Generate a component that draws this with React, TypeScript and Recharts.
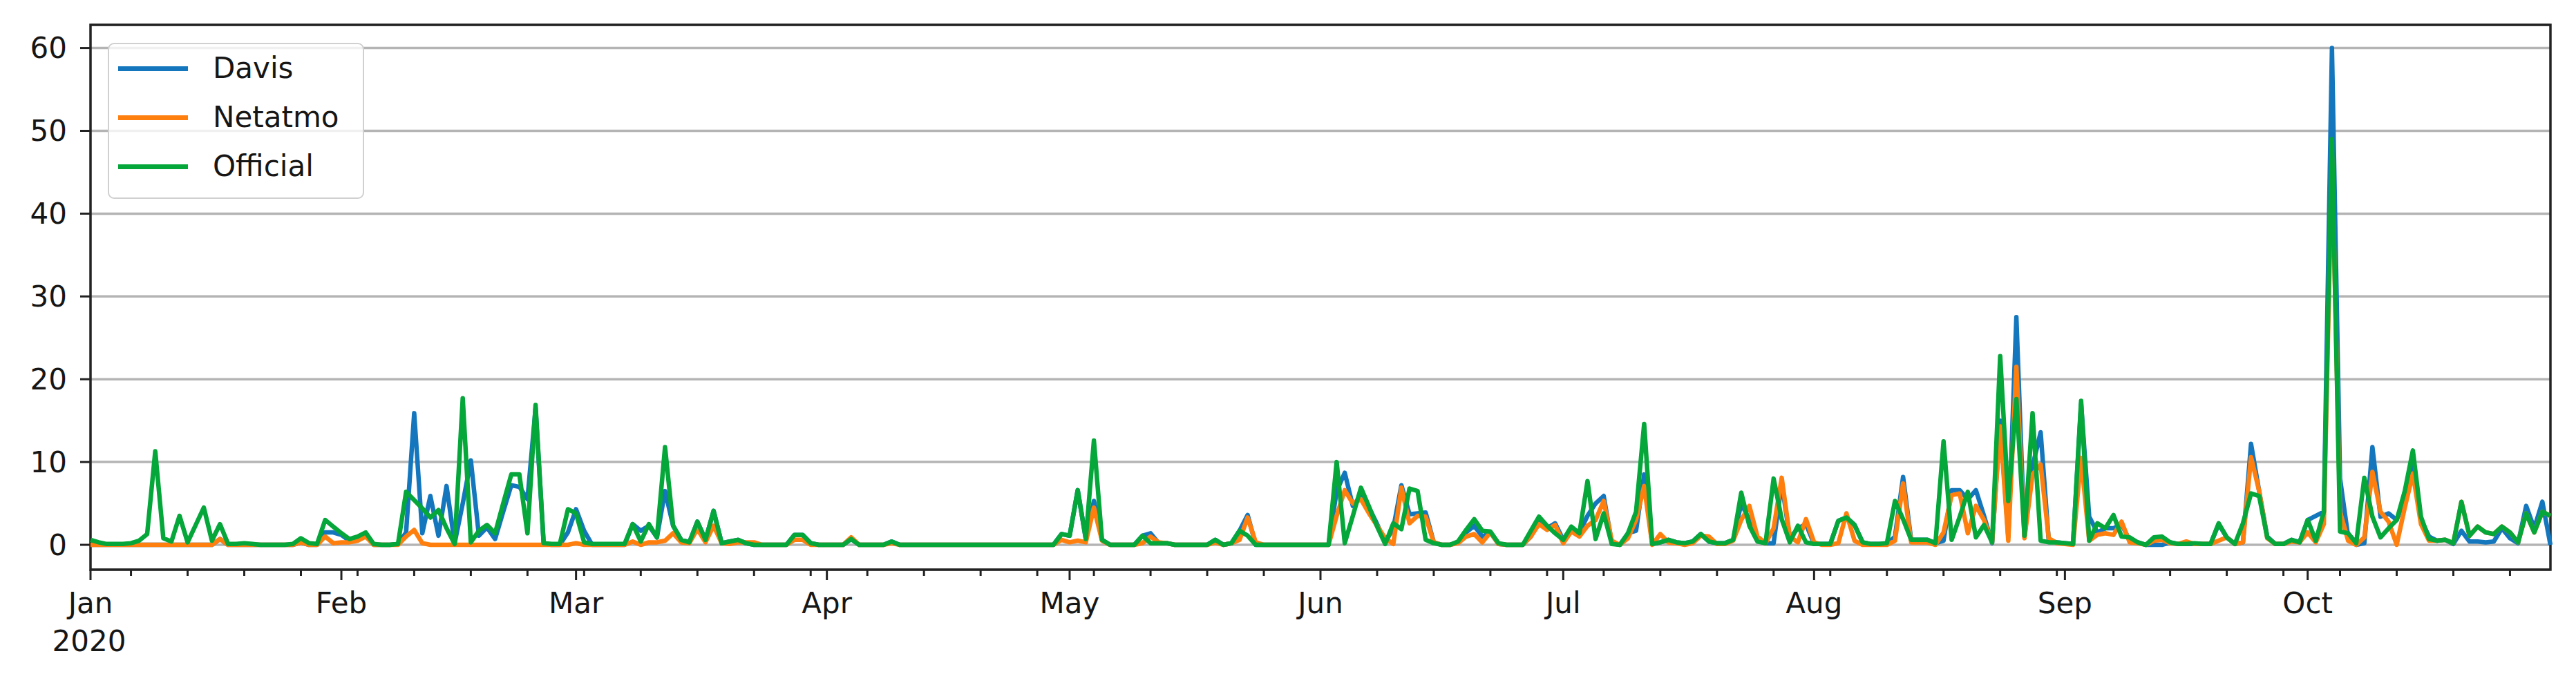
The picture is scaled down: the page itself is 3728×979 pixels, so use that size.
import React from "react";
import { LineChart, Line, XAxis, YAxis, CartesianGrid, ReferenceArea } from "recharts";

// Daily precipitation, 1 Jan 2020 .. 31 Oct 2020 (305 days)
const officialJan = [0.6,0.3,0.1,0.1,0.1,0.2,0.5,1.3,11.3,0.8, 0.4,3.5,0.3,2.4,4.5,0.5,2.5,0.1,0.1,0.2, 0.1,0,0,0,0,0.1,0.8,0.2,0.1,3.0, 2.2];
const officialFeb = [1.4,0.7,1.0,1.5,0.1,0,0,0.1,6.4,5.4, 4.4,3.3,4.2,2.0,0.1,17.7,0.3,1.7,2.4,1.4, 5.0,8.5,8.5,1.4,16.9,0.2,0.1,0.1,4.3];
const officialMar = [3.8,0.3,0.1,0.1,0.1,0.1,0.1,2.5,0.4,2.5, 0.9,11.8,2.3,0.6,0.3,2.8,0.6,4.1,0.2,0.4, 0.6,0.2,0,0,0,0,0,1.2,1.2,0.2, 0];
const officialApr = [0,0,0,0.7,0,0,0,0,0.4,0, 0,0,0,0,0,0,0,0,0,0, 0,0,0,0,0,0,0,0,0,1.3];
const officialMay = [1.1,6.6,0.7,12.6,0.6,0,0,0,0,1.1, 0.2,0.2,0.2,0,0,0,0,0,0.6,0, 0.2,1.7,1.1,0,0,0,0,0,0,0, 0];
const officialJun = [0,0,10.0,0.2,3.5,6.9,4.6,2.2,0.1,2.6, 1.9,6.8,6.5,0.6,0.2,0,0,0.4,1.8,3.1, 1.7,1.6,0.2,0,0,0,1.7,3.4,2.3,1.4];
const officialJul = [0.6,2.2,1.4,7.7,0.7,3.8,0.1,0,1.4,4.0, 14.6,0.1,0.3,0.6,0.3,0.2,0.4,1.3,0.4,0.2, 0.2,0.6,6.3,2.3,0.4,0.2,8.0,3.1,0.3,2.3, 0.3];
const officialAug = [0.1,0.1,0.1,2.9,3.3,2.4,0.3,0.1,0.1,0.2, 5.3,3.1,0.6,0.6,0.6,0.2,12.5,0.6,3.4,6.4, 0.9,2.4,0.3,22.8,5.3,17.6,1.1,15.9,0.5,0.3, 0.3];
const officialSep = [0.2,0.1,17.4,0.5,2.6,2.0,3.6,1.0,0.9,0.3, 0,0.9,1.0,0.3,0.1,0.1,0.2,0.1,0.1,2.6, 0.9,0.1,2.6,6.2,5.9,0.9,0.1,0.1,0.6,0.3];
const officialOct = [3.0,0.5,4.0,49,1.6,1.4,0.2,8.1,3.4,0.9, 2.0,3.0,6.5,11.4,3.4,0.7,0.5,0.6,0.2,5.2, 1.1,2.2,1.5,1.3,2.2,1.5,0.3,3.8,1.5,4.0, 3.5];

const netatmoJan = [0,0,0,0,0,0,0,0,0,0, 0,0,0,0,0,0,0.7,0,0,0, 0,0,0,0,0,0,0.3,0,0,1.0, 0.2];
const netatmoFeb = [0.3,0.3,0.5,1.0,0,0,0,0,1.0,1.8, 0.2,0,0,0,0,0,0,0,0,0, 0,0,0,0,0,0,0,0,0];
const netatmoMar = [0.2,0,0,0,0,0,0,0.4,0,0.3, 0.3,0.5,1.4,0.3,0.2,1.9,0.3,2.3,0.2,0.1, 0.3,0.3,0.3,0,0,0,0,0.6,0.6,0, 0];
const netatmoApr = [0,0,0,0.9,0,0,0,0,0.2,0, 0,0,0,0,0,0,0,0,0,0, 0,0,0,0,0,0,0,0,0,0.6];
const netatmoMay = [0.3,0.5,0.3,4.5,0.5,0,0,0,0,0.2, 1.0,0.3,0.2,0,0,0,0,0,0.3,0, 0.2,0.6,3.3,0.3,0,0,0,0,0,0, 0];
const netatmoJun = [0,0,3.5,6.6,5.0,5.5,3.8,2.3,0.8,0.1, 6.9,2.6,3.5,3.4,0.3,0,0,0.2,1.0,1.3, 0.3,1.5,0.1,0,0,0,1.0,2.5,1.8,2.4];
const netatmoJul = [0.2,1.6,1.0,2.3,3.0,5.3,0.5,0,0.8,3.0, 7.1,0,1.3,0.3,0.2,0,0.2,1.1,1.0,0.1, 0.1,0.5,3.0,4.7,1.0,0.2,2.0,8.1,1.0,0.3, 3.1];
const netatmoAug = [0.3,0,0,0.2,3.8,0.5,0,0,0,0, 0.5,7.4,0.3,0.3,0.3,0,1.5,6.0,6.2,1.4, 4.7,3.0,0.3,14.3,0.5,21.5,0.8,8.5,9.7,0.8, 0.2];
const netatmoSep = [0.1,0,10.5,0.5,1.2,1.4,1.2,2.8,0.3,0.2, 0,0.5,0.6,0.2,0.1,0.4,0.1,0.1,0.1,0.5, 0.9,0.1,0.3,10.6,6.5,0.8,0.1,0.1,0.4,0.3];
const netatmoOct = [1.5,0.3,2.5,47,4.0,0.5,0,0.9,8.8,4.0, 2.8,0,4.5,8.6,2.5,0.5,0.5,0.6,0.2,5.2, 1.1,2.2,1.5,1.3,2.2,1.5,0.3,3.8,1.5,4.0, 3.5];

const davisJan = [0,0,0,0,0,0,0,0,0,0, 0,0,0,0,0,0,0.7,0,0,0, 0,0,0,0,0,0,0.3,0,0,1.5, 1.5];
const davisFeb = [1.2,0.5,0.8,1.2,0,0,0,0.1,1.5,15.9, 1.4,5.9,1.1,7.1,0.2,5.0,10.2,1.1,2.1,0.7, 4.0,7.2,7.0,5.5,16.5,0.1,0,0,1.5];
const davisMar = [4.3,1.7,0,0,0,0,0,2.5,1.7,2.3, 0.9,6.5,2.3,0.6,0.3,2.8,0.6,4.1,0.2,0.4, 0.6,0.2,0,0,0,0,0,1.2,1.2,0.2, 0];
const davisApr = [0,0,0,0.7,0,0,0,0,0.4,0, 0,0,0,0,0,0,0,0,0,0, 0,0,0,0,0,0,0,0,0,1.3];
const davisMay = [1.1,6.6,0.7,5.3,0.6,0,0,0,0,1.1, 1.4,0.2,0.2,0,0,0,0,0,0.6,0, 0.2,1.7,3.6,0,0,0,0,0,0,0, 0];
const davisJun = [0,0,6.5,8.7,4.7,6.0,4.5,2.5,0.3,2.0, 7.2,3.7,3.8,3.9,0.3,0,0,0.3,1.5,2.3, 1.0,1.5,0.1,0,0,0,1.0,2.8,2.0,2.6];
const davisJul = [0.6,2.0,1.5,3.5,5.0,5.9,0.2,0,1.4,1.7, 8.5,0.1,0.3,0.6,0.3,0.2,0.4,1.3,0.4,0.2, 0.2,0.6,5.0,3.0,0.5,0.2,0.2,7.5,0.8,2.0, 2.5];
const davisAug = [0.1,0.1,0.1,2.9,3.3,2.4,0.3,0.1,0.1,0.1, 1.0,8.2,0.6,0.6,0.6,0.2,0.5,6.6,6.6,5.5, 6.6,3.5,0.2,15.0,1.0,27.5,1.0,9.5,13.6,0.5, 0.3];
const davisSep = [0.2,0.1,17.0,3.4,1.5,2.0,2.0,2.5,0.5,0.3, 0,0,0,0.3,0.1,0.1,0.1,0.1,0.1,2.5, 0.9,0.1,0.3,12.2,6.5,1.0,0.1,0.1,0.6,0.3];
const davisOct = [3.0,3.5,4.0,60,8.0,1.0,0,0.2,11.8,3.4, 3.8,3.0,5.5,9.8,3.0,1.0,0.5,0.6,0.1,1.7, 0.4,0.4,0.3,0.4,2.0,0.8,0.2,4.7,2.0,5.2, 0];

const monthLabels = ["Jan", "Feb", "Mar", "Apr", "May", "Jun", "Jul", "Aug", "Sep", "Oct"];
const monthStarts = [0, 31, 60, 91, 121, 152, 182, 213, 244, 274];
const mondayTicks = [5,12,19,26,33,40,47,54,61,68,75,82,89,96,103,110,117,124,131,138,145,159,166,173,180,187,194,201,208,215,222,229,236,243,250,257,264,271,278,285,292,299];
const yTicks = [0, 10, 20, 30, 40, 50, 60];
const seriesNames = ["Davis", "Netatmo", "Official"];
const seriesColors = ["#1477bd", "#ff7f0e", "#05a63a"];

const davis = [...davisJan, ...davisFeb, ...davisMar, ...davisApr, ...davisMay, ...davisJun, ...davisJul, ...davisAug, ...davisSep, ...davisOct];
const netatmo = [...netatmoJan, ...netatmoFeb, ...netatmoMar, ...netatmoApr, ...netatmoMay, ...netatmoJun, ...netatmoJul, ...netatmoAug, ...netatmoSep, ...netatmoOct];
const official = [...officialJan, ...officialFeb, ...officialMar, ...officialApr, ...officialMay, ...officialJun, ...officialJul, ...officialAug, ...officialSep, ...officialOct];

const data = official.map((v, i) => ({ day: i, Davis: davis[i], Netatmo: netatmo[i], Official: v }));

const TXT = "#161616";
const FONT = "'DejaVu Sans', sans-serif";
const FS = 42;
const LW = 6.5;

const XTick = (props: any) => {
  const { x, y, payload } = props;
  const v = payload.value;
  const mi = monthStarts.indexOf(v);
  if (mi < 0) {
    return <line x1={x} x2={x} y1={y} y2={y + 9} stroke="#222" strokeWidth={3} />;
  }
  return (
    <g>
      <line x1={x} x2={x} y1={y} y2={y + 15} stroke="#222" strokeWidth={3} />
      <text x={x} y={y + 31} textAnchor="middle" fontSize={FS} fontFamily={FONT} fill={TXT}>
        <tspan x={x} dy="0.76em">{monthLabels[mi]}</tspan>
        {mi === 0 ? <tspan x={x - 2} dy={55}>2020</tspan> : null}
      </text>
    </g>
  );
};

const allXTicks = [...monthStarts, ...mondayTicks].sort((a, b) => a - b);

export default function App() {
  return (
    <div style={{ position: "relative", width: 3712, height: 963, background: "#fff" }}>
      <LineChart
        width={3712}
        height={963}
        data={data}
        margin={{ top: 28, right: 29, bottom: 46, left: 43 }}
      >
        <CartesianGrid vertical={false} stroke="#b4b4b4" strokeWidth={3.5} />
        <XAxis
          type="number"
          dataKey="day"
          domain={[0, 304]}
          ticks={allXTicks}
          interval={0}
          tickSize={0}
          tickMargin={0}
          axisLine={false}
          tickLine={false}
          tick={<XTick />}
          height={100}
        />
        <YAxis
          type="number"
          domain={[-3, 62.8]}
          ticks={yTicks}
          interval={0}
          width={80}
          tickSize={15}
          tickMargin={19}
          axisLine={false}
          tickLine={{ stroke: "#222", strokeWidth: 3 }}
          tick={{ fontSize: FS, fill: TXT, fontFamily: FONT }}
          allowDataOverflow
        />
        <Line type="linear" dataKey="Davis" stroke={seriesColors[0]} strokeWidth={LW} dot={false} isAnimationActive={false} strokeLinejoin="round" />
        <Line type="linear" dataKey="Netatmo" stroke={seriesColors[1]} strokeWidth={LW} dot={false} isAnimationActive={false} strokeLinejoin="round" />
        <Line type="linear" dataKey="Official" stroke={seriesColors[2]} strokeWidth={LW} dot={false} isAnimationActive={false} strokeLinejoin="round" />
        <ReferenceArea x1={0} x2={304} y1={-3} y2={62.8} fill="none" fillOpacity={0} stroke="#222" strokeWidth={3.5} ifOverflow="visible" />
      </LineChart>
      <div
        style={{
          position: "absolute",
          left: 148,
          top: 54,
          width: 371,
          height: 226,
          boxSizing: "border-box",
          border: "2.5px solid #d0d0d0",
          borderRadius: 9,
          background: "rgba(255,255,255,0.8)",
          fontFamily: FONT,
          fontSize: FS,
          color: TXT,
        }}
      >
        {seriesNames.map((n, i) => (
          <div key={n} style={{ position: "absolute", left: 0, top: 35 + i * 71 - 30, height: 60, width: "100%" }}>
            <div style={{ position: "absolute", left: 13, top: 27, width: 101, height: LW, background: seriesColors[i] }} />
            <div style={{ position: "absolute", left: 150, top: 0, lineHeight: "60px", whiteSpace: "nowrap" }}>{n}</div>
          </div>
        ))}
      </div>
    </div>
  );
}
